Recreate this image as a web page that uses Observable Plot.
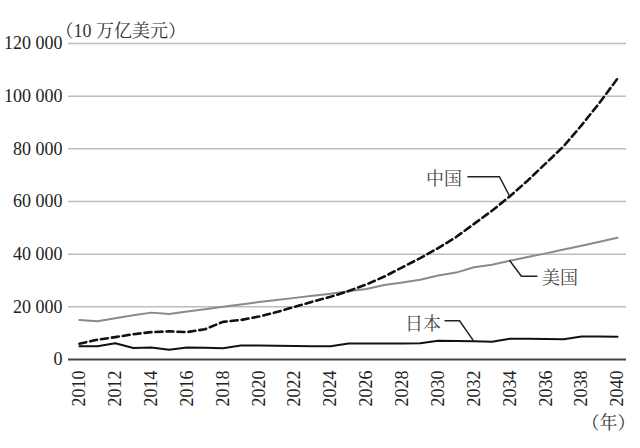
<!DOCTYPE html>
<html><head><meta charset="utf-8">
<script src="https://cdn.jsdelivr.net/npm/d3@7"></script>
<script src="https://cdn.jsdelivr.net/npm/@observablehq/plot@0.6"></script>
<style>body{margin:0;background:#fff}</style>
</head><body><div id="chart"></div>
<script>
const years = [2010,2011,2012,2013,2014,2015,2016,2017,2018,2019,2020,2021,2022,2023,2024,2025,2026,2027,2028,2029,2030,2031,2032,2033,2034,2035,2036,2037,2038,2039,2040];
const usa   = [15000,14500,15700,16800,17800,17300,18200,19100,20000,20900,21800,22600,23400,24200,25000,25900,26800,28300,29200,30300,31900,33000,35000,36000,37500,38900,40300,41800,43200,44700,46200];
const china = [6000,7500,8500,9600,10400,10700,10400,11500,14300,15000,16300,18000,20000,22000,23800,26000,28500,31500,35000,38500,42300,46500,51500,56500,62000,68000,74500,81000,89000,97500,106700];
const japan = [5000,5000,6200,4400,4600,3700,4600,4500,4300,5300,5300,5200,5100,5000,5000,6100,6100,6100,6100,6200,7100,7000,6900,6700,7900,7900,7800,7700,8700,8700,8600];
const yTicks = [0,20000,40000,60000,80000,100000,120000];
const xTicks = [2010,2012,2014,2016,2018,2020,2022,2024,2026,2028,2030,2032,2034,2036,2038,2040];
const unitLabel = "（10 万亿美元）";
const yearLabel = "（年）";
const seriesNames = ["中国","美国","日本"];
const labelYears = [2034,2034,2032];

const seriesValues = {"中国": china, "美国": usa, "日本": japan};
const rows = [];
for (const s of seriesNames) years.forEach((yr,i)=>rows.push({series:s, year:yr, value:seriesValues[s][i]}));
const labels = seriesNames.map((s,i)=>({series:s, year:labelYears[i], value:seriesValues[s][years.indexOf(labelYears[i])]}));

const serif = "'Liberation Serif','Noto Serif CJK SC',serif";
const fmt = d => d3.format(",")(d).replace(/,/g," ");

const plot = Plot.plot({
  width:640, height:448,
  marginTop:43, marginBottom:89, marginLeft:68, marginRight:14,
  style:{fontSize:"18px", color:"#222", background:"#fff"},
  x:{domain:[2009.39,2040.5]},
  y:{domain:[0,120000]},
  marks:[
    Plot.ruleY(yTicks.filter(d=>d>0),{stroke:"#bdbdbd",strokeWidth:1.5}),
    Plot.ruleY([0],{stroke:"#444",strokeWidth:2}),
    Plot.axisY({ticks:yTicks, tickSize:0, tickPadding:6, tickFormat:fmt, label:null, fontSize:18, fill:"#222"}),
    Plot.axisX({ticks:xTicks, tickSize:0, tickRotate:-90, tickPadding:11, tickFormat:d=>String(d), label:null, fontSize:18, fill:"#222"}),
    Plot.line(rows.filter(d=>d.series==="美国"),{x:"year",y:"value",stroke:"#8a8a8a",strokeWidth:2}),
    Plot.line(rows.filter(d=>d.series==="日本"),{x:"year",y:"value",stroke:"#111",strokeWidth:2}),
    Plot.line(rows.filter(d=>d.series==="中国"),{x:"year",y:"value",stroke:"#111",strokeWidth:2.6,strokeDasharray:"7,4"}),
    Plot.text([unitLabel],{frameAnchor:"top-left",dx:-13,dy:-19,textAnchor:"start",fontSize:18,fill:"#333"}),
    Plot.text([yearLabel],{frameAnchor:"bottom-right",dx:9,dy:69,textAnchor:"end",fontSize:18,fill:"#333"}),
    Plot.text(labels.filter(d=>d.series==="中国"),{x:"year",y:"value",text:"series",dx:-48,dy:-17,textAnchor:"end",fontSize:18,fill:"#444"}),
    Plot.text(labels.filter(d=>d.series==="美国"),{x:"year",y:"value",text:"series",dx:32,dy:17,textAnchor:"start",fontSize:18,fill:"#444"}),
    Plot.text(labels.filter(d=>d.series==="日本"),{x:"year",y:"value",text:"series",dx:-33,dy:-17,textAnchor:"end",fontSize:18,fill:"#444"})
  ]
});
document.getElementById("chart").appendChild(plot);
d3.select(plot).selectAll("text").style("font-family", serif);

// leader lines from each series point to its label
const sx = plot.scale("x"), sy = plot.scale("y");
const leaderShapes = {
  "中国": [[0,0],[-10,-19],[-42,-19]],
  "美国": [[0,0],[12,16],[28,16]],
  "日本": [[0,0],[-14,-20],[-29,-20]]
};
const svg = d3.select(plot);
for (const l of labels) {
  const px = sx.apply(l.year), py = sy.apply(l.value);
  const pts = leaderShapes[l.series].map(([dx,dy])=>[px+dx,py+dy]);
  svg.append("path").attr("d", d3.line()(pts)).attr("fill","none").attr("stroke","#222").attr("stroke-width",1.5);
}
</script></body></html>
